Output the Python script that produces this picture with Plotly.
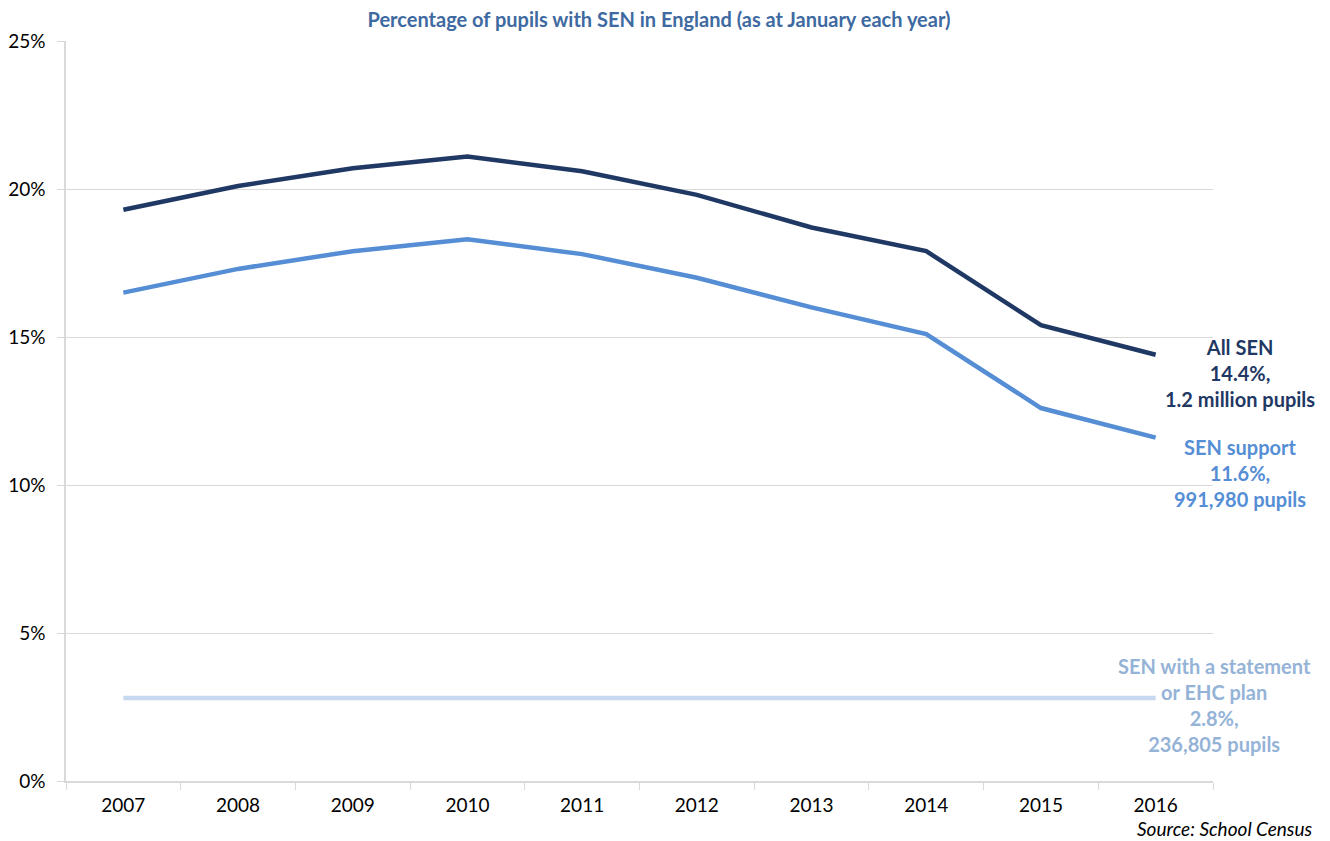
import plotly.graph_objects as go

years = ["2007", "2008", "2009", "2010", "2011", "2012", "2013", "2014", "2015", "2016"]
all_sen = [19.3, 20.1, 20.7, 21.1, 20.6, 19.8, 18.7, 17.9, 15.4, 14.4]
sen_support = [16.5, 17.3, 17.9, 18.3, 17.8, 17.0, 16.0, 15.1, 12.6, 11.6]
sen_statement = [2.8, 2.8, 2.8, 2.8, 2.8, 2.8, 2.8, 2.8, 2.8, 2.8]

C_ALL = "#1f3864"
C_SUP = "#558ed5"
C_STA = "#c6d9f1"
C_STA_TXT = "#95b3d7"
FONT = "Lato"

fig = go.Figure()
fig.add_trace(go.Scatter(x=years, y=sen_statement, mode="lines", line=dict(color=C_STA, width=4.5), name="SEN with a statement or EHC plan"))
fig.add_trace(go.Scatter(x=years, y=sen_support, mode="lines", line=dict(color=C_SUP, width=4.5), name="SEN support"))
fig.add_trace(go.Scatter(x=years, y=all_sen, mode="lines", line=dict(color=C_ALL, width=4.5), name="All SEN"))

fig.update_layout(
    width=1330, height=841,
    margin=dict(l=66, r=117, t=41, b=60),
    plot_bgcolor="white", paper_bgcolor="white",
    showlegend=False,
    font=dict(family=FONT, size=19, color="#000000"),
    title=dict(text="<b>Percentage of pupils with SEN in England (as at January each year)</b>",
               x=0.4955, xanchor="center", y=1 - 20 / 841, yanchor="middle",
               font=dict(family=FONT, size=20, color="#3e6aa1")),
)
fig.update_xaxes(
    type="category", range=[-0.5, 9.5], automargin=False,
    tickson="boundaries", ticks="outside", ticklen=7, tickcolor="#d9d9d9",
    showline=True, linecolor="#d9d9d9", linewidth=1.5,
    showgrid=False, tickfont=dict(size=19, color="#000000"),
    ticklabelstandoff=6,
)
fig.update_yaxes(
    range=[0, 25], dtick=5, ticksuffix="%", automargin=False,
    ticks="outside", ticklen=7, tickcolor="#d9d9d9",
    showline=True, linecolor="#d9d9d9", linewidth=1.5,
    showgrid=True, gridcolor="#d9d9d9", gridwidth=1.2,
    zeroline=False, tickfont=dict(size=19, color="#000000"),
    ticklabelstandoff=8,
)

fig.add_annotation(text="<b>All SEN<br>14.4%,<br>1.2 million pupils</b>", xref="paper", yref="y",
                   x=1.0235, y=all_sen[-1], xanchor="center", yanchor="middle", showarrow=False,
                   align="center", font=dict(family=FONT, size=20, color=C_ALL), yshift=-18)
fig.add_annotation(text="<b>SEN support<br>11.6%,<br>991,980 pupils</b>", xref="paper", yref="y",
                   x=1.0235, y=sen_support[-1], xanchor="center", yanchor="middle", showarrow=False,
                   align="center", font=dict(family=FONT, size=20, color=C_SUP), yshift=-35)
fig.add_annotation(text="<b>SEN with a statement<br>or EHC plan<br>2.8%,<br>236,805 pupils</b>", xref="paper", yref="y",
                   x=1.0017, y=sen_statement[-1], xanchor="center", yanchor="middle", showarrow=False,
                   align="center", font=dict(family=FONT, size=20, color=C_STA_TXT), yshift=-7)
fig.add_annotation(text="<i>Source: School Census</i>", xref="paper", yref="paper",
                   x=1.0, y=0, xanchor="right", yanchor="top", xshift=102, yshift=-34,
                   showarrow=False, font=dict(family=FONT, size=19, color="#000000"))

fig.write_html("out.html")
